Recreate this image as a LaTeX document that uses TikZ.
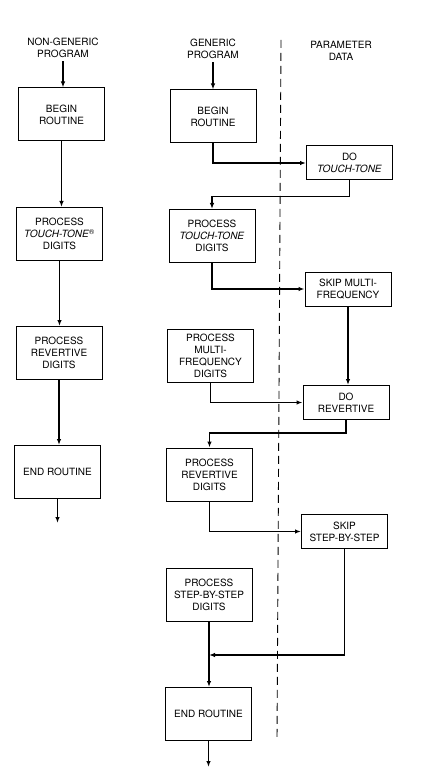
\documentclass[tikz,border=0pt]{standalone}
\usepackage{fontspec}
\setmainfont{TeX Gyre Heros}
\usetikzlibrary{arrows.meta}

\begin{document}
\begin{tikzpicture}[x=1pt,y=-1pt,
        lbl/.style={font=\fontsize{10}{12}\selectfont,align=center},
        box/.style={lbl,draw,line width=1pt,minimum width=86pt,minimum height=53pt,inner sep=1pt},
        pbox/.style={lbl,draw,line width=1pt,minimum width=86pt,minimum height=34pt,inner sep=1pt},
        flow/.style={line width=1.5pt,-{Latex[length=6pt,width=4.5pt]}}]
        \useasboundingbox (0,0) rectangle (438,775);

        % Column titles
        \node[lbl] (ngtitle) at (63,48) {NON-GENERIC\\PROGRAM};
        \node[lbl] (gtitle) at (213,49) {GENERIC\\PROGRAM};
        \node[lbl] (ptitle) at (341,51) {PARAMETER\\DATA};

        % Boundary between program and parameter data
        \draw[line width=0.9pt,dash pattern=on 8pt off 5pt] (281,40) -- (277,740);

        % Non-generic program
        \node[box] (nb1) at (61.5,114.5) {BEGIN\\ROUTINE};
        \node[box] (nb2) at (59.5,234) {PROCESS\\\textit{TOUCH-TONE}\textsuperscript{\textregistered}\\DIGITS};
        \node[box] (nb3) at (59,353) {PROCESS\\REVERTIVE\\DIGITS};
        \node[box] (nb4) at (57.5,472) {END ROUTINE};
        \coordinate (nout) at (57.5,523);

        \draw[flow] (ngtitle.south) -- (ngtitle.south |- nb1.north);
        \draw[flow] (nb1.south) -- (nb1.south |- nb2.north);
        \draw[flow] (nb2.south) -- (nb2.south |- nb3.north);
        \draw[flow] (nb3.south) -- (nb3.south |- nb4.north);
        \draw[flow] (nb4.south) -- (nout);

        % Generic program
        \node[box] (gb1) at (213,116.5) {BEGIN\\ROUTINE};
        \node[box] (gb2) at (212,236) {PROCESS\\\textit{TOUCH-TONE}\\DIGITS};
        \node[box] (gb3) at (210.5,355.5) {PROCESS\\MULTI-\\FREQUENCY\\DIGITS};
        \node[box] (gb4) at (209.5,474.5) {PROCESS\\REVERTIVE\\DIGITS};
        \node[box] (gb5) at (209,594.5) {PROCESS\\STEP-BY-STEP\\DIGITS};
        \node[box] (gb6) at (208.5,714) {END ROUTINE};
        \coordinate (gout) at (208.5,767);
        \coordinate (join) at (209,655);

        % Parameter data
        \node[pbox] (pd1) at (349.5,163) {DO\\\textit{TOUCH-TONE}};
        \node[pbox] (pd2) at (348,289) {SKIP MULTI-\\FREQUENCY};
        \node[pbox] (pd3) at (346,402.5) {DO\\REVERTIVE};
        \node[pbox] (pd4) at (344.5,531.5) {SKIP\\STEP-BY-STEP};

        \draw[flow] (gtitle.south) -- (gtitle.south |- gb1.north);
        \draw[flow] (gb1.south) |- (pd1.west);
        \draw[flow] (pd1.south) -- ++(0,16) -| (gb2.north);
        \draw[flow] (gb2.south) |- (pd2.west);
        \draw[flow] (pd2.south) -- (pd2.south |- pd3.north);
        \draw[flow] (gb3.south) |- (pd3.west);
        \draw[flow] (pd3.south) -- ++(0,13) -| (gb4.north);
        \draw[flow] (gb4.south) |- (pd4.west);
        \draw[flow] (pd4.south) |- (join);
        \draw[flow] (gb5.south) -- (gb5.south |- gb6.north);
        \draw[flow] (gb6.south) -- (gout);
\end{tikzpicture}
\end{document}
